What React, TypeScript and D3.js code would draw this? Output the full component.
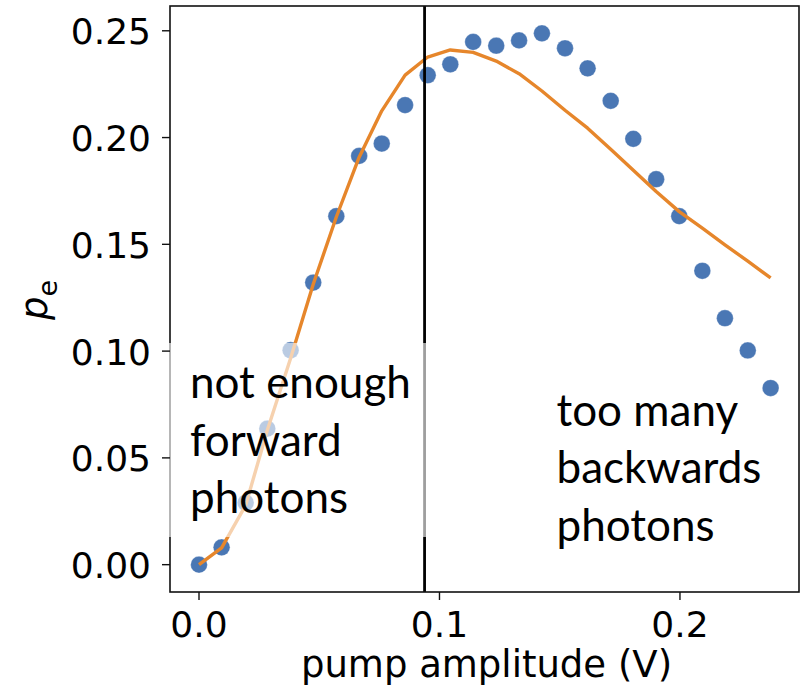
import React from "react";
import * as d3 from "d3";

// Data
const pumpAmplitude = [
  0, 0.0094, 0.0194, 0.0284, 0.0381, 0.0475, 0.0571, 0.0666, 0.076, 0.0857,
  0.0951, 0.1045, 0.114, 0.1236, 0.1331, 0.1426, 0.1522, 0.1616, 0.1712,
  0.1806, 0.1901, 0.1997, 0.2093, 0.2187, 0.2282, 0.2377,
];
const measuredPe = [
  0.0, 0.0081, 0.029, 0.0637, 0.1004, 0.1321, 0.1632, 0.1914, 0.1972, 0.2152,
  0.2292, 0.2343, 0.2448, 0.243, 0.2455, 0.2488, 0.2418, 0.2324, 0.2172,
  0.1994, 0.1805, 0.1632, 0.1376, 0.1154, 0.1003, 0.0827,
];
const modelPe = [
  0.0, 0.0079, 0.0278, 0.0629, 0.0967, 0.1313, 0.1628, 0.1908, 0.2125, 0.2292,
  0.2377, 0.241, 0.2399, 0.2358, 0.2299, 0.2218, 0.2128, 0.2044, 0.1945,
  0.1847, 0.1747, 0.1653, 0.1576, 0.1498, 0.1421, 0.1343,
];
const xTicks = [0, 0.1, 0.2];
const xTickLabels = ["0.0", "0.1", "0.2"];
const yTicks = [0, 0.05, 0.1, 0.15, 0.2, 0.25];
const yTickLabels = ["0.00", "0.05", "0.10", "0.15", "0.20", "0.25"];
const thresholdX = 0.0938;
const leftNote = ["not enough", "forward", "photons"];
const rightNote = ["too many", "backwards", "photons"];
const xLabel = "pump amplitude (V)";

const W = 810;
const H = 689;
const plot = { left: 170, right: 799, top: 6, bottom: 592 };
const xDomain: [number, number] = [-0.01206, 0.2495];
const yDomain: [number, number] = [-0.0128, 0.2616];

const BLUE = "#4a77b4";
const ORANGE = "#e6862b";
const TICK_FONT = "'DejaVu Sans', sans-serif";
const NOTE_FONT = "Lato, 'Open Sans', sans-serif";

export default function App() {
  const x = d3.scaleLinear().domain(xDomain).range([plot.left, plot.right]);
  const y = d3.scaleLinear().domain(yDomain).range([plot.bottom, plot.top]);
  const pts = pumpAmplitude.map((a, i) => ({ a, m: measuredPe[i], f: modelPe[i] }));
  const line = d3
    .line<{ a: number; f: number }>()
    .x((d) => x(d.a))
    .y((d) => y(d.f));

  return (
    <svg
      width={W}
      height={H}
      style={{ position: "absolute", left: 0, top: 0, background: "#fff" }}
    >
      <rect x={0} y={0} width={W} height={H} fill="#fff" />
      {/* data */}
      {pts.map((d, i) => (
        <circle
          key={i}
          cx={x(d.a)}
          cy={y(d.m)}
          r={8.4}
          fill={BLUE}
          stroke="#ffffff"
          strokeOpacity={0.5}
          strokeWidth={0.6}
        />
      ))}
      <path
        d={line(pts) || ""}
        fill="none"
        stroke={ORANGE}
        strokeWidth={3.4}
        strokeLinejoin="round"
      />
      {/* threshold line */}
      <line
        x1={x(thresholdX)}
        x2={x(thresholdX)}
        y1={plot.top}
        y2={plot.bottom}
        stroke="#000"
        strokeWidth={2.8}
      />
      {/* frame */}
      <rect
        x={plot.left}
        y={plot.top}
        width={plot.right - plot.left}
        height={plot.bottom - plot.top}
        fill="none"
        stroke="#111"
        strokeWidth={1.6}
      />
      {/* translucent note box */}
      <rect x={169} y={343} width={259} height={194} fill="#fff" fillOpacity={0.62} />
      {/* y ticks */}
      {yTicks.map((t, i) => (
        <g key={"y" + i}>
          <line x1={plot.left - 8} x2={plot.left} y1={y(t)} y2={y(t)} stroke="#111" strokeWidth={1.4} />
          <text
            x={151}
            y={y(t) + 13.5}
            textAnchor="end"
            fontFamily={TICK_FONT}
            fontSize={36}
            fill="#000"
          >
            {yTickLabels[i]}
          </text>
        </g>
      ))}
      {/* x ticks */}
      {xTicks.map((t, i) => (
        <g key={"x" + i}>
          <line x1={x(t)} x2={x(t)} y1={plot.bottom} y2={plot.bottom + 8} stroke="#111" strokeWidth={1.4} />
          <text
            x={x(t)}
            y={636.5}
            textAnchor="middle"
            fontFamily={TICK_FONT}
            fontSize={36}
            fill="#000"
          >
            {xTickLabels[i]}
          </text>
        </g>
      ))}
      {/* axis labels */}
      <text
        x={(plot.left + plot.right) / 2 + 2}
        y={677}
        textAnchor="middle"
        fontFamily={TICK_FONT}
        fontSize={37}
        fill="#000"
      >
        {xLabel}
      </text>
      <text
        transform={`translate(47, 300) rotate(-90)`}
        textAnchor="middle"
        fontFamily={TICK_FONT}
        fontSize={37}
        fill="#000"
      >
        <tspan fontStyle="italic">p</tspan>
        <tspan fontSize={27} dy={9.5}>e</tspan>
      </text>
      {/* notes */}
      {leftNote.map((s, i) => (
        <text key={"l" + i} x={190} y={398.3 + i * 57.2} fontFamily={NOTE_FONT} fontSize={44} fill="#000">
          {s}
        </text>
      ))}
      {rightNote.map((s, i) => (
        <text key={"r" + i} x={556.5} y={426 + i * 57.3} fontFamily={NOTE_FONT} fontSize={44} fill="#000">
          {s}
        </text>
      ))}
    </svg>
  );
}
